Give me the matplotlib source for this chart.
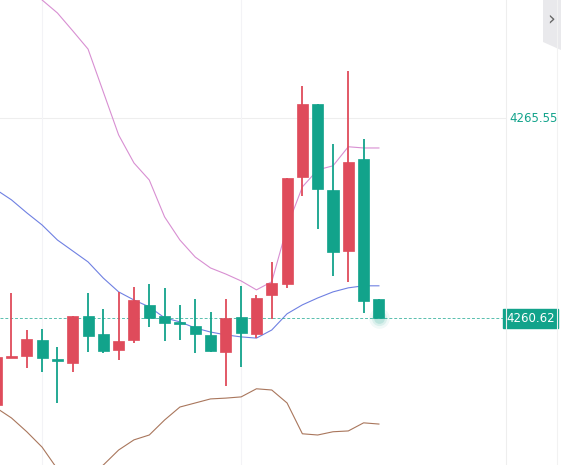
import matplotlib
matplotlib.use("Agg")
import matplotlib.pyplot as plt
import numpy as np
from matplotlib.patches import Rectangle, Polygon

# candle data (open, high, low, close), red = up, green = down
opens = [4258.48, 4259.65, 4259.69, 4260.08, 4259.62, 4259.52, 4260.68, 4260.23, 4259.84,
         4260.08, 4260.95, 4260.68, 4260.53, 4260.43, 4260.21, 4259.79, 4260.65, 4260.23,
         4261.19, 4261.47, 4264.11, 4265.91, 4263.79, 4262.28, 4264.55, 4261.10]
highs = [4259.79, 4261.24, 4260.33, 4260.36, 4259.91, 4260.68, 4261.24, 4260.85, 4261.27,
         4261.39, 4261.47, 4261.37, 4260.95, 4261.10, 4260.78, 4261.10, 4261.42, 4261.19,
         4262.01, 4264.08, 4266.35, 4265.91, 4264.92, 4266.72, 4265.04, 4261.10]
lows = [4258.36, 4259.63, 4259.39, 4259.30, 4258.53, 4259.30, 4259.79, 4259.76, 4259.59,
        4260.01, 4260.41, 4260.06, 4260.08, 4259.76, 4259.79, 4258.95, 4259.42, 4260.13,
        4260.60, 4261.37, 4263.64, 4262.82, 4261.66, 4261.52, 4260.75, 4260.62]
closes = [4259.67, 4259.68, 4260.11, 4259.64, 4259.57, 4260.68, 4260.18, 4259.81, 4260.06,
          4261.07, 4260.63, 4260.50, 4260.48, 4260.23, 4259.81, 4260.63, 4260.26, 4261.12,
          4261.49, 4264.08, 4265.91, 4263.81, 4262.26, 4264.48, 4261.05, 4260.62]

# bollinger lines
upper = [4269.58, 4269.34, 4268.84, 4268.47, 4268.15, 4267.71, 4267.26, 4266.20, 4265.14,
         4264.45, 4264.03, 4263.12, 4262.55, 4262.13, 4261.86, 4261.71, 4261.54, 4261.32,
         4261.52, 4262.87, 4263.86, 4264.28, 4264.38, 4264.85, 4264.82, 4264.82]
middle = [4263.79, 4263.54, 4263.22, 4262.92, 4262.55, 4262.28, 4262.01, 4261.61, 4261.27,
          4261.07, 4260.90, 4260.63, 4260.53, 4260.38, 4260.28, 4260.21, 4260.16, 4260.13,
          4260.33, 4260.73, 4260.95, 4261.12, 4261.27, 4261.37, 4261.42, 4261.42]
lower = [4258.41, 4258.16, 4257.82, 4257.44, 4256.90, 4256.68, 4256.73, 4257.00, 4257.37,
         4257.62, 4257.74, 4258.11, 4258.43, 4258.53, 4258.63, 4258.65, 4258.68, 4258.88,
         4258.85, 4258.53, 4257.77, 4257.74, 4257.82, 4257.84, 4258.04, 4258.01]

last_price = 4260.62
grid_price = 4265.55

RED = "#df4b5b"
GREEN = "#12a38b"

W, H = 561, 465
fig = plt.figure(figsize=(W / 100, H / 100), dpi=100)
ax = fig.add_axes([0, 0, 506 / W, 1])
ax.set_xlim(0.25, 33.3)
ax.set_ylim(4257.00, 4268.47)
ax.axis("off")

x = np.arange(len(opens))

# grid
ax.axhline(grid_price, color="#eeeeee", lw=0.8, zorder=0)
for gx in [3, 16]:
    ax.axvline(gx, color="#f3f3f6", lw=0.8, zorder=0)

# bands
ax.plot(x, upper, color="#d88fd2", lw=0.8, zorder=1)
ax.plot(x, middle, color="#6f80e2", lw=0.8, zorder=1)
ax.plot(x, lower, color="#a9765c", lw=0.8, zorder=1)

# candles
bw = 0.72
for i in x:
    o, h, l, c = opens[i], highs[i], lows[i], closes[i]
    col = RED if c >= o else GREEN
    ax.vlines(i, l, h, color=col, lw=1.3, zorder=2)
    lo, hi = min(o, c), max(o, c)
    hgt = max(hi - lo, 0.04)
    ax.add_patch(Rectangle((i - bw / 2, lo - (hgt - (hi - lo)) / 2), bw, hgt,
                           facecolor=col, edgecolor=col, lw=0.5, zorder=3))

# glow on the last candle
for s, a in [(220, 0.06), (120, 0.1), (60, 0.15)]:
    ax.scatter([x[-1]], [last_price], s=s, color=GREEN, alpha=a, lw=0, zorder=2)

# last price line
ax.axhline(last_price, color=GREEN, lw=0.7, ls=(0, (3, 2)), alpha=0.7, zorder=1)

# right price axis
fig.add_artist(plt.Line2D([506 / W, 506 / W], [0, 1], color="#eeeeee", lw=0.8))
fig.add_artist(plt.Line2D([557 / W, 557 / W], [0, 1], color="#f2f2f2", lw=0.8))
tr = ax.get_yaxis_transform()
ax.text(1.006, grid_price, f"{grid_price:.2f}", transform=tr, color=GREEN,
        fontsize=8.5, va="center", ha="left", clip_on=False)
ax.text(1.0, last_price, f"{last_price:.2f}", transform=tr, color="white",
        fontsize=8.5, va="center", ha="left", clip_on=False,
        bbox=dict(boxstyle="square,pad=0.25", fc=GREEN, ec=GREEN))

# collapse tab top right
fig.add_artist(Polygon([[543 / W, 1], [561 / W, 1], [561 / W, 1 - 50 / H],
                        [543 / W, 1 - 42 / H]], closed=True, fc="#e9e9ec", ec="none",
                       transform=fig.transFigure))
fig.text(551 / W, 1 - 19 / H, "›", color="#666666", fontsize=14, ha="center", va="center")

fig.savefig("out.png", dpi=100)
